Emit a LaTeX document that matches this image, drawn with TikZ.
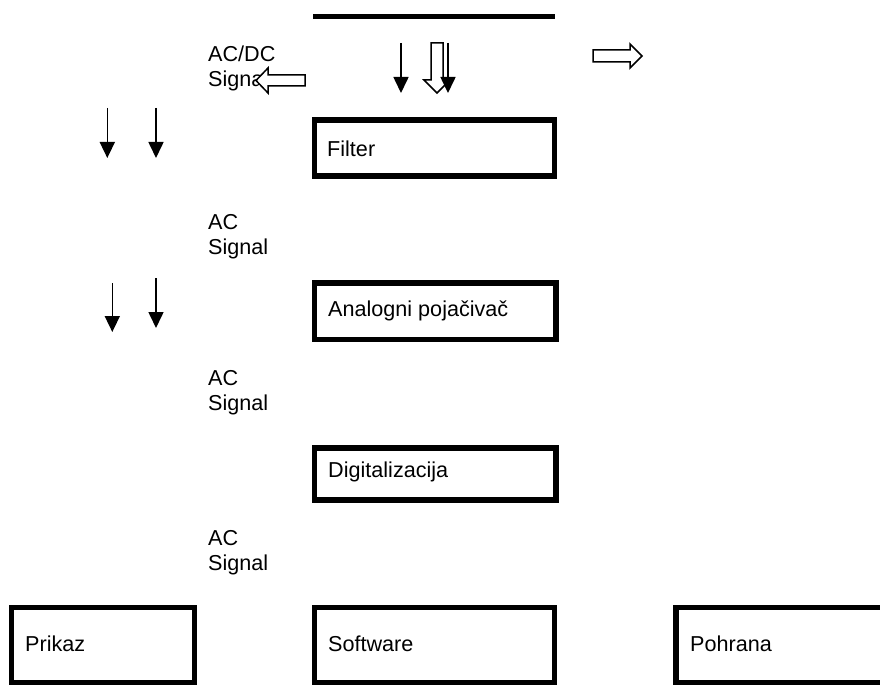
\documentclass[tikz,border=0pt]{standalone}
\usepackage{fontspec}
\setmainfont{Liberation Sans}
\usetikzlibrary{arrows.meta}
\begin{document}
\begin{tikzpicture}[x=1bp,y=-1bp,
  box/.style={draw, line width=5.5bp, line join=miter, inner sep=0pt, minimum height=56bp},
  lbl/.style={anchor=base west, inner sep=0pt, align=left, font=\fontsize{21.6bp}{24.5bp}\selectfont},
  thinarrow/.style={line width=1.6bp, -{Triangle[length=16bp,width=15bp]}},
  hollow/.style={draw, line width=1.5bp, fill=white, line join=miter}]
\useasboundingbox (0,0) rectangle (880,686);

% top bar
\coordinate (bar1) at (313,16.7);
\coordinate (bar2) at (555,16.7);
\draw[line width=5.5bp] (bar1) -- (bar2);

% boxes
\node[box, minimum width=240bp] (filter) at (434.5,148) {};
\node[box, minimum width=241.5bp, minimum height=56.5bp] (amp) at (435.25,311.25) {};
\node[box, minimum width=241.5bp, minimum height=52bp] (dig) at (435.25,474) {};
\node[box, minimum width=183bp, minimum height=75bp] (prikaz) at (103,645) {};
\node[box, minimum width=240bp, minimum height=75bp] (soft) at (434.5,645) {};
\node[box, minimum width=240bp, minimum height=75bp] (pohrana) at (796,645) {};

% box texts
\node[lbl] (tfilter) at (327,157) {Filter};
\node[lbl] (tamp) at (328,316) {Analogni pojačivač};
\node[lbl] (tdig) at (328,477.5) {Digitalizacija};
\node[lbl] (tprikaz) at (25,651) {Prikaz};
\node[lbl] (tsoft) at (328,651) {Software};
\node[lbl] (tpohrana) at (690,651) {Pohrana};

% signal labels (base anchor = baseline of the last line)
\node[lbl] (sig0) at (208,86.5) {AC/DC\\Signal};
\node[lbl] (sig1) at (208,254) {AC\\Signal};
\node[lbl] (sig2) at (208,410) {AC\\Signal};
\node[lbl] (sig3) at (208,570) {AC\\Signal};

% hollow arrows
\draw[hollow] (256,80.5) -- (268,68) -- (268,75) -- (305,75) -- (305,86) -- (268,86) -- (268,93) -- cycle;
\draw[hollow] (437,93) -- (424,80) -- (431,80) -- (431,43) -- (443,43) -- (443,80) -- (450,80) -- cycle;
\draw[hollow] (642,56) -- (630,44) -- (630,50) -- (593,50) -- (593,62) -- (630,62) -- (630,68) -- cycle;

% thin arrows
\coordinate (a1s) at (107.3,108); \coordinate (a1e) at (107.3,158);
\coordinate (a2s) at (156,108);   \coordinate (a2e) at (156,158);
\coordinate (a3s) at (112.3,283); \coordinate (a3e) at (112.3,332);
\coordinate (a4s) at (156,278);   \coordinate (a4e) at (156,328);
\coordinate (a5s) at (401,43);    \coordinate (a5e) at (401,93);
\coordinate (a6s) at (448,43);    \coordinate (a6e) at (448,93);
\draw[thinarrow] (a1s) -- (a1e);
\draw[thinarrow] (a2s) -- (a2e);
\draw[thinarrow] (a3s) -- (a3e);
\draw[thinarrow] (a4s) -- (a4e);
\draw[thinarrow] (a5s) -- (a5e);
\draw[thinarrow] (a6s) -- (a6e);
\end{tikzpicture}
\end{document}
